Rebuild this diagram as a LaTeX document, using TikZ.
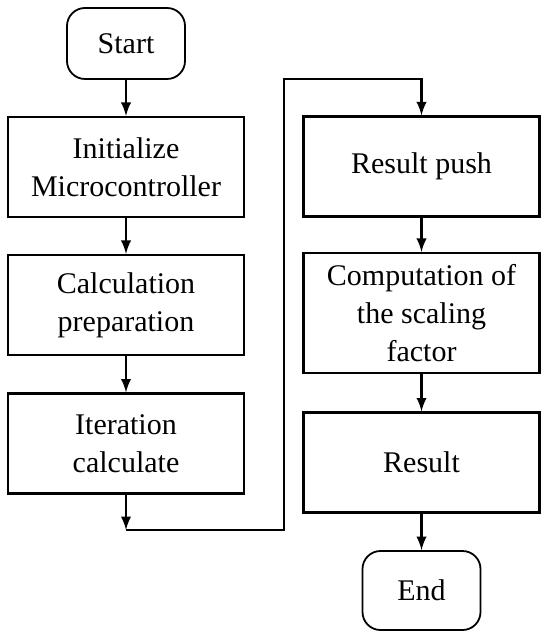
\documentclass[tikz,border=0pt]{standalone}
\usepackage{fontspec}
\setmainfont{Liberation Serif}
\usetikzlibrary{shapes,arrows,positioning}

\tikzset{
  procbox/.style={draw, line width=1.1pt, minimum width=118pt, minimum height=50pt,
    align=center, inner sep=2pt, font=\fontsize{15}{19}\selectfont},
  termbox/.style={draw, line width=0.9pt, rounded corners=9pt, minimum width=59pt,
    align=center, font=\fontsize{15}{19}\selectfont},
  flow/.style={-latex, line width=1.3pt}
}

\begin{document}
\begin{tikzpicture}[x=0.5pt, y=-0.5pt]
    \useasboundingbox (0,0) rectangle (550,640);

    % Left column
    \node[termbox, minimum height=35.5pt] (start) at (126,43.5) {Start};
    \node[procbox] (init) at (126,167) {Initialize\\Microcontroller};
    \node[procbox] (calc) at (126,305) {Calculation\\preparation};
    \node[procbox] (iter) at (126,443.5) {Iteration\\calculate};

    % Right column
    \node[procbox] (push) at (421.5,166.5) {Result push};
    \node[procbox, minimum height=60pt] (comp) at (421.5,313) {Computation of\\the scaling\\factor};
    \node[procbox] (result) at (421.5,462.5) {Result};
    \node[termbox, minimum height=39.5pt] (end) at (421.5,590.5) {End};

    % Turning points of the link
    \coordinate (lowturn) at (126,530);
    \coordinate (highturn) at (284,79);

    % Connectors
    \draw[flow] (start) -- (init);
    \draw[flow] (init) -- (calc);
    \draw[flow] (calc) -- (iter);
    \draw[flow] (iter) -- (lowturn);
    \draw[flow] (lowturn) -| (highturn) -| (push.north);
    \draw[flow] (push) -- (comp);
    \draw[flow] (comp) -- (result);
    \draw[flow] (result) -- (end);
\end{tikzpicture}
\end{document}
